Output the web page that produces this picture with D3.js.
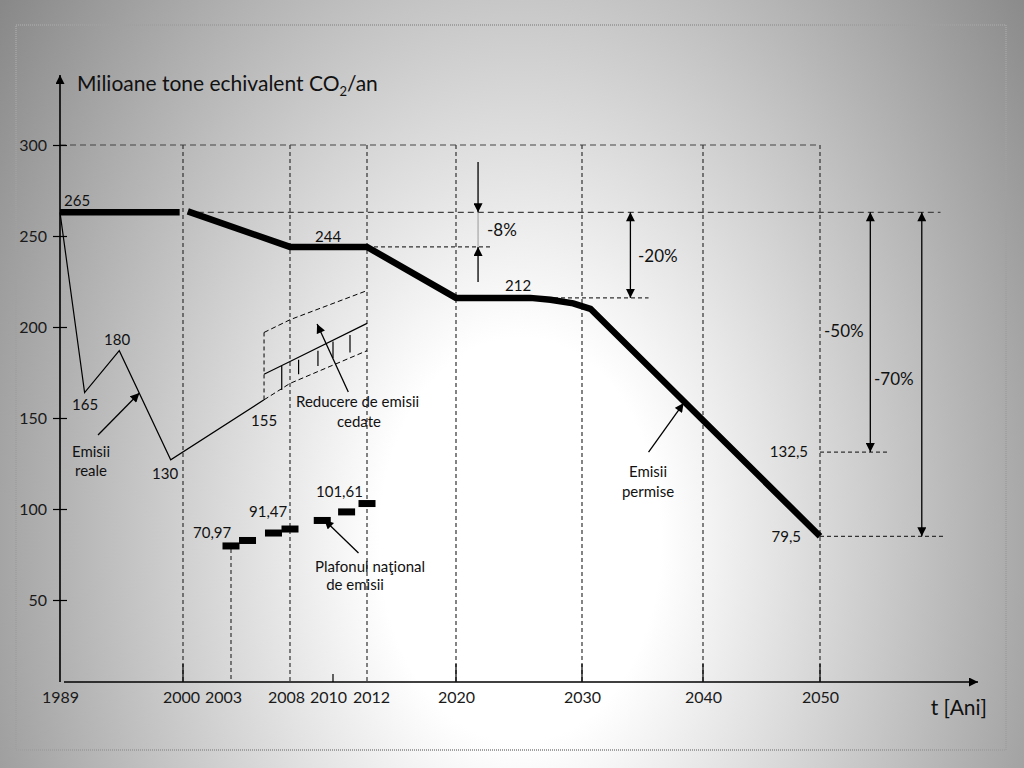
<!DOCTYPE html>
<meta charset="utf-8">
<script src="https://d3js.org/d3.v7.min.js"></script>
<style>
  body { margin: 0; }
  svg { display: block; }
</style>
<div id="my_dataviz"></div>
<script>

// years written under the time axis, values on the vertical axis
var tickYears = [1989, 2000, 2003, 2008, 2010, 2012, 2020, 2030, 2040, 2050];
var yTicks = [50, 100, 150, 200, 250, 300];

// "Emisii permise" - thick line, drawn in two pieces
var permiseYearsA = [1989, 1999.7];
var permiseValuesA = [263, 263];
var permiseYearsB = [2000.3, 2008, 2012, 2020, 2025.9, 2027.5, 2029.3, 2030.7, 2050];
var permiseValuesB = [263.5, 244, 244, 216, 216, 215, 213, 210, 85];

// "Emisii reale" - thin line
var realeYears = [1989, 1991.2, 1994.3, 1998.9, 2005.8];
var realeValues = [263, 164, 187, 127, 160];

// "Plafonul national de emisii" - small bars
var plafonYears = [2003, 2004.4, 2006.6, 2008, 2009.5, 2010.8, 2012];
var plafonValues = [79.7, 82.7, 86.8, 89, 93.7, 98.4, 103];

// "Reducere de emisii cedate" - band
var bandYears = [2005.8, 2008, 2012];
var bandUpper = [197, 204, 220];
var bandMid = [174, 181, 202];
var bandLower = [160, 169, 187];
var hatchYears = [2007.3, 2008.4, 2009.3, 2010, 2011];
var hatchTop = [178.6, 182, 187, 192, 195.6];
var hatchBottom = [165.4, 174, 178.6, 183, 186];

// reference levels and reduction arrows
var levels = {
  base: 263, l2012: 244, l2020: 216, l2050a: 131.3, l2050b: 85
};

var W = 1024, H = 768;

var svg = d3.select("#my_dataviz")
  .append("svg")
    .attr("width", W)
    .attr("height", H)
    .style("font-family", "Lato, 'Open Sans', sans-serif");

// background: light centre, grey edges
var defs = svg.append("defs");
var grad = defs.append("radialGradient")
  .attr("id", "bg")
  .attr("gradientUnits", "userSpaceOnUse")
  .attr("cx", 0).attr("cy", 0).attr("r", 1)
  .attr("gradientTransform", "translate(520,540) scale(640,920)");
grad.append("stop").attr("offset", 0).attr("stop-color", "#ffffff");
grad.append("stop").attr("offset", 0.22).attr("stop-color", "#ffffff");
grad.append("stop").attr("offset", 1).attr("stop-color", "#888888");

svg.append("rect")
  .attr("width", W).attr("height", H)
  .attr("fill", "url(#bg)");

svg.append("rect")
  .attr("x", 16).attr("y", 25)
  .attr("width", 990).attr("height", 725)
  .attr("fill", "none")
  .attr("stroke", "#a0a0a0")
  .attr("stroke-width", 2)
  .attr("stroke-dasharray", "1,1");

// arrow head
defs.append("marker")
  .attr("id", "arrow")
  .attr("viewBox", "0 0 10 10")
  .attr("refX", 10).attr("refY", 5)
  .attr("markerUnits", "userSpaceOnUse")
  .attr("markerWidth", 10).attr("markerHeight", 9)
  .attr("orient", "auto-start-reverse")
  .append("path")
    .attr("d", "M0,0 L10,5 L0,10 z")
    .attr("fill", "#000");

// scales (the drawing's time axis is not evenly spaced)
var x = d3.scaleLinear()
  .domain(tickYears)
  .range([60, 183, 231, 290, 333, 367, 456, 582, 703, 820]);

var y = d3.scaleLinear()
  .domain([0, 300])
  .range([691, 145]);

var axisY = 682;

// grid / guide lines
function dashed(x1, y1, x2, y2, dash, color) {
  svg.append("line")
    .attr("x1", x1).attr("y1", y1).attr("x2", x2).attr("y2", y2)
    .attr("stroke", color || "#333")
    .attr("stroke-width", 1.2)
    .attr("stroke-dasharray", dash || "4,3");
}

dashed(x(1989), y(300), x(2050), y(300), "6,4", "#444");
[2000, 2008, 2012, 2020, 2030, 2040, 2050].forEach(function(yr) {
  dashed(x(yr), y(300), x(yr), axisY, "4,3", "#333");
});
dashed(x(2003), y(plafonValues[0]) + 3, x(2003), axisY, "4,3", "#333");

dashed(x(2000.3), y(levels.base), x(2060.3), y(levels.base), "6,4", "#444");
dashed(x(2012), y(levels.l2012), x(2022.9), y(levels.l2012), "4,3", "#333");
dashed(x(2020), y(levels.l2020), x(2035.5), y(levels.l2020), "4,3", "#333");
dashed(x(2050), y(levels.l2050a), x(2055.8), y(levels.l2050a), "4,3", "#333");
dashed(x(2050), y(levels.l2050b), x(2060.7), y(levels.l2050b), "4,3", "#333");

// axes
svg.append("line")
  .attr("x1", 60).attr("y1", axisY).attr("x2", 60).attr("y2", 75)
  .attr("stroke", "#000").attr("stroke-width", 1.6)
  .attr("marker-end", "url(#arrow)");
svg.append("line")
  .attr("x1", 64).attr("y1", axisY).attr("x2", 978).attr("y2", axisY)
  .attr("stroke", "#000").attr("stroke-width", 1.6)
  .attr("marker-end", "url(#arrow)");

var gy = svg.append("g")
  .attr("transform", "translate(60,0)")
  .call(d3.axisLeft(y).tickValues(yTicks).tickSizeInner(7).tickSizeOuter(0).tickPadding(6));
gy.select(".domain").remove();
gy.selectAll(".tick line").attr("x1", 7).attr("stroke", "#000").attr("stroke-width", 1.2);
gy.selectAll("text")
  .style("font-family", "Lato, sans-serif")
  .style("font-size", "16px")
  .attr("fill", "#1a1a1a");

// labels under the axis sit a little off their ticks in the drawing
var tickLabelShift = {2000: -2, 2003: -8, 2008: -4, 2010: -5, 2012: 4};

var gx = svg.append("g")
  .attr("transform", "translate(0," + axisY + ")")
  .call(d3.axisBottom(x).tickValues(tickYears).tickSize(0).tickPadding(10).tickFormat(d3.format("d")));
gx.select(".domain").remove();
gx.selectAll("text")
  .attr("dx", function(d) { return tickLabelShift[d] || 0; })
  .style("font-family", "Lato, sans-serif")
  .style("font-size", "16px")
  .attr("fill", "#1a1a1a");

// solid ticks at the bottom of some guides
[2000, 2020, 2030, 2040, 2050].forEach(function(yr) {
  svg.append("line")
    .attr("x1", x(yr)).attr("x2", x(yr))
    .attr("y1", axisY - 18).attr("y2", axisY)
    .attr("stroke", "#000").attr("stroke-width", 1.2);
});
svg.append("line")
  .attr("x1", x(2010)).attr("x2", x(2010))
  .attr("y1", axisY - 8).attr("y2", axisY)
  .attr("stroke", "#000").attr("stroke-width", 1.2);

// line generators
var line = d3.line()
  .x(function(d) { return x(d[0]); })
  .y(function(d) { return y(d[1]); });

function pairs(a, b) { return a.map(function(v, i) { return [v, b[i]]; }); }

// band for "Reducere de emisii cedate"
svg.append("path")
  .attr("d", line(pairs(bandYears, bandUpper)))
  .attr("fill", "none").attr("stroke", "#000").attr("stroke-width", 1)
  .attr("stroke-dasharray", "5,3");
svg.append("path")
  .attr("d", line(pairs(bandYears, bandLower)))
  .attr("fill", "none").attr("stroke", "#000").attr("stroke-width", 1)
  .attr("stroke-dasharray", "5,3");
svg.append("line")
  .attr("x1", x(bandYears[0])).attr("x2", x(bandYears[0]))
  .attr("y1", y(bandUpper[0])).attr("y2", y(bandLower[0]))
  .attr("stroke", "#000").attr("stroke-width", 1)
  .attr("stroke-dasharray", "4,3");
svg.append("path")
  .attr("d", line(pairs(bandYears, bandMid)))
  .attr("fill", "none").attr("stroke", "#000").attr("stroke-width", 1.2);
svg.selectAll(".hatch")
  .data(hatchYears)
  .enter()
  .append("line")
    .attr("class", "hatch")
    .attr("x1", function(d) { return x(d); })
    .attr("x2", function(d) { return x(d); })
    .attr("y1", function(d, i) { return y(hatchTop[i]); })
    .attr("y2", function(d, i) { return y(hatchBottom[i]); })
    .attr("stroke", "#000").attr("stroke-width", 1.2);

// real emissions
svg.append("path")
  .attr("d", line(pairs(realeYears, realeValues)))
  .attr("fill", "none").attr("stroke", "#000").attr("stroke-width", 1.2);

// allowed emissions
[pairs(permiseYearsA, permiseValuesA), pairs(permiseYearsB, permiseValuesB)].forEach(function(p) {
  svg.append("path")
    .attr("d", line(p))
    .attr("fill", "none")
    .attr("stroke", "#000")
    .attr("stroke-width", 6.5)
    .attr("stroke-linejoin", "miter");
});

// national cap bars
svg.selectAll(".plafon")
  .data(plafonYears)
  .enter()
  .append("rect")
    .attr("class", "plafon")
    .attr("x", function(d) { return x(d) - 8.5; })
    .attr("y", function(d, i) { return y(plafonValues[i]) - 3.5; })
    .attr("width", 17)
    .attr("height", 7)
    .attr("fill", "#000");

// arrows
function arrow(y0, v0, y1, v1, both, color, width) {
  svg.append("line")
    .attr("x1", x(y0)).attr("y1", y(v0))
    .attr("x2", x(y1)).attr("y2", y(v1))
    .attr("stroke", color || "#000")
    .attr("stroke-width", width || 1.3)
    .attr("marker-end", "url(#arrow)")
    .attr("marker-start", both ? "url(#arrow)" : null);
}

// -8%
svg.append("line")
  .attr("x1", x(2021.75)).attr("x2", x(2021.75))
  .attr("y1", y(levels.base)).attr("y2", y(levels.l2012))
  .attr("stroke", "#999").attr("stroke-width", 1);
arrow(2021.75, 290.7, 2021.75, levels.base);
arrow(2021.75, 224.7, 2021.75, levels.l2012);
// -20%, -50%, -70%
arrow(2034, levels.base, 2034, levels.l2020, true);
arrow(2054.3, levels.base, 2054.3, levels.l2050a, true);
arrow(2058.7, levels.base, 2058.7, levels.l2050b, true);

// pointer arrows to the labels
arrow(1992.4, 140.7, 1996.1, 163.7);
arrow(2010.9, 164.3, 2009.26, 201.6);
arrow(2011.5, 75.8, 2009.6, 94);
arrow(2035.5, 131.3, 2038.4, 158.2);

// texts
function label(t, px, py, size, anchor) {
  return svg.append("text")
    .attr("x", px).attr("y", py)
    .attr("text-anchor", anchor || "start")
    .style("font-size", (size || 15) + "px")
    .attr("fill", "#111")
    .text(t);
}

var title = svg.append("text")
  .attr("x", 77).attr("y", 91)
  .style("font-size", "21px")
  .attr("fill", "#111");
title.append("tspan").text("Milioane tone echivalent CO");
title.append("tspan").attr("dy", 5).style("font-size", "13px").text("2");
title.append("tspan").attr("dy", -5).text("/an");

label("t [Ani]", 987, 715, 21, "end");

label("265", 64, 206);
label("244", 315, 242);
label("212", 505, 291);
label("180", 104, 345);
label("165", 72, 410);
label("130", 152, 479);
label("155", 251, 426);
label("Emisii", 91, 457, 15, "middle");
label("reale", 91, 476, 15, "middle");
label("Reducere de emisii", 296, 407);
label("cedate", 337, 427);
label("70,97", 193, 538);
label("91,47", 249, 517);
label("101,61", 316, 497);
label("Plafonul naţional", 370, 572, 15, "middle");
label("de emisii", 355, 590, 15, "middle");
label("Emisii", 648, 477, 15, "middle");
label("permise", 648, 497, 15, "middle");
label("132,5", 808, 457, 15, "end");
label("79,5", 801, 542, 15, "end");

label("-8%", 487, 236, 17);
label("-20%", 638, 262, 17);
label("-50%", 824, 337, 17);
label("-70%", 874, 385, 17);

</script>
